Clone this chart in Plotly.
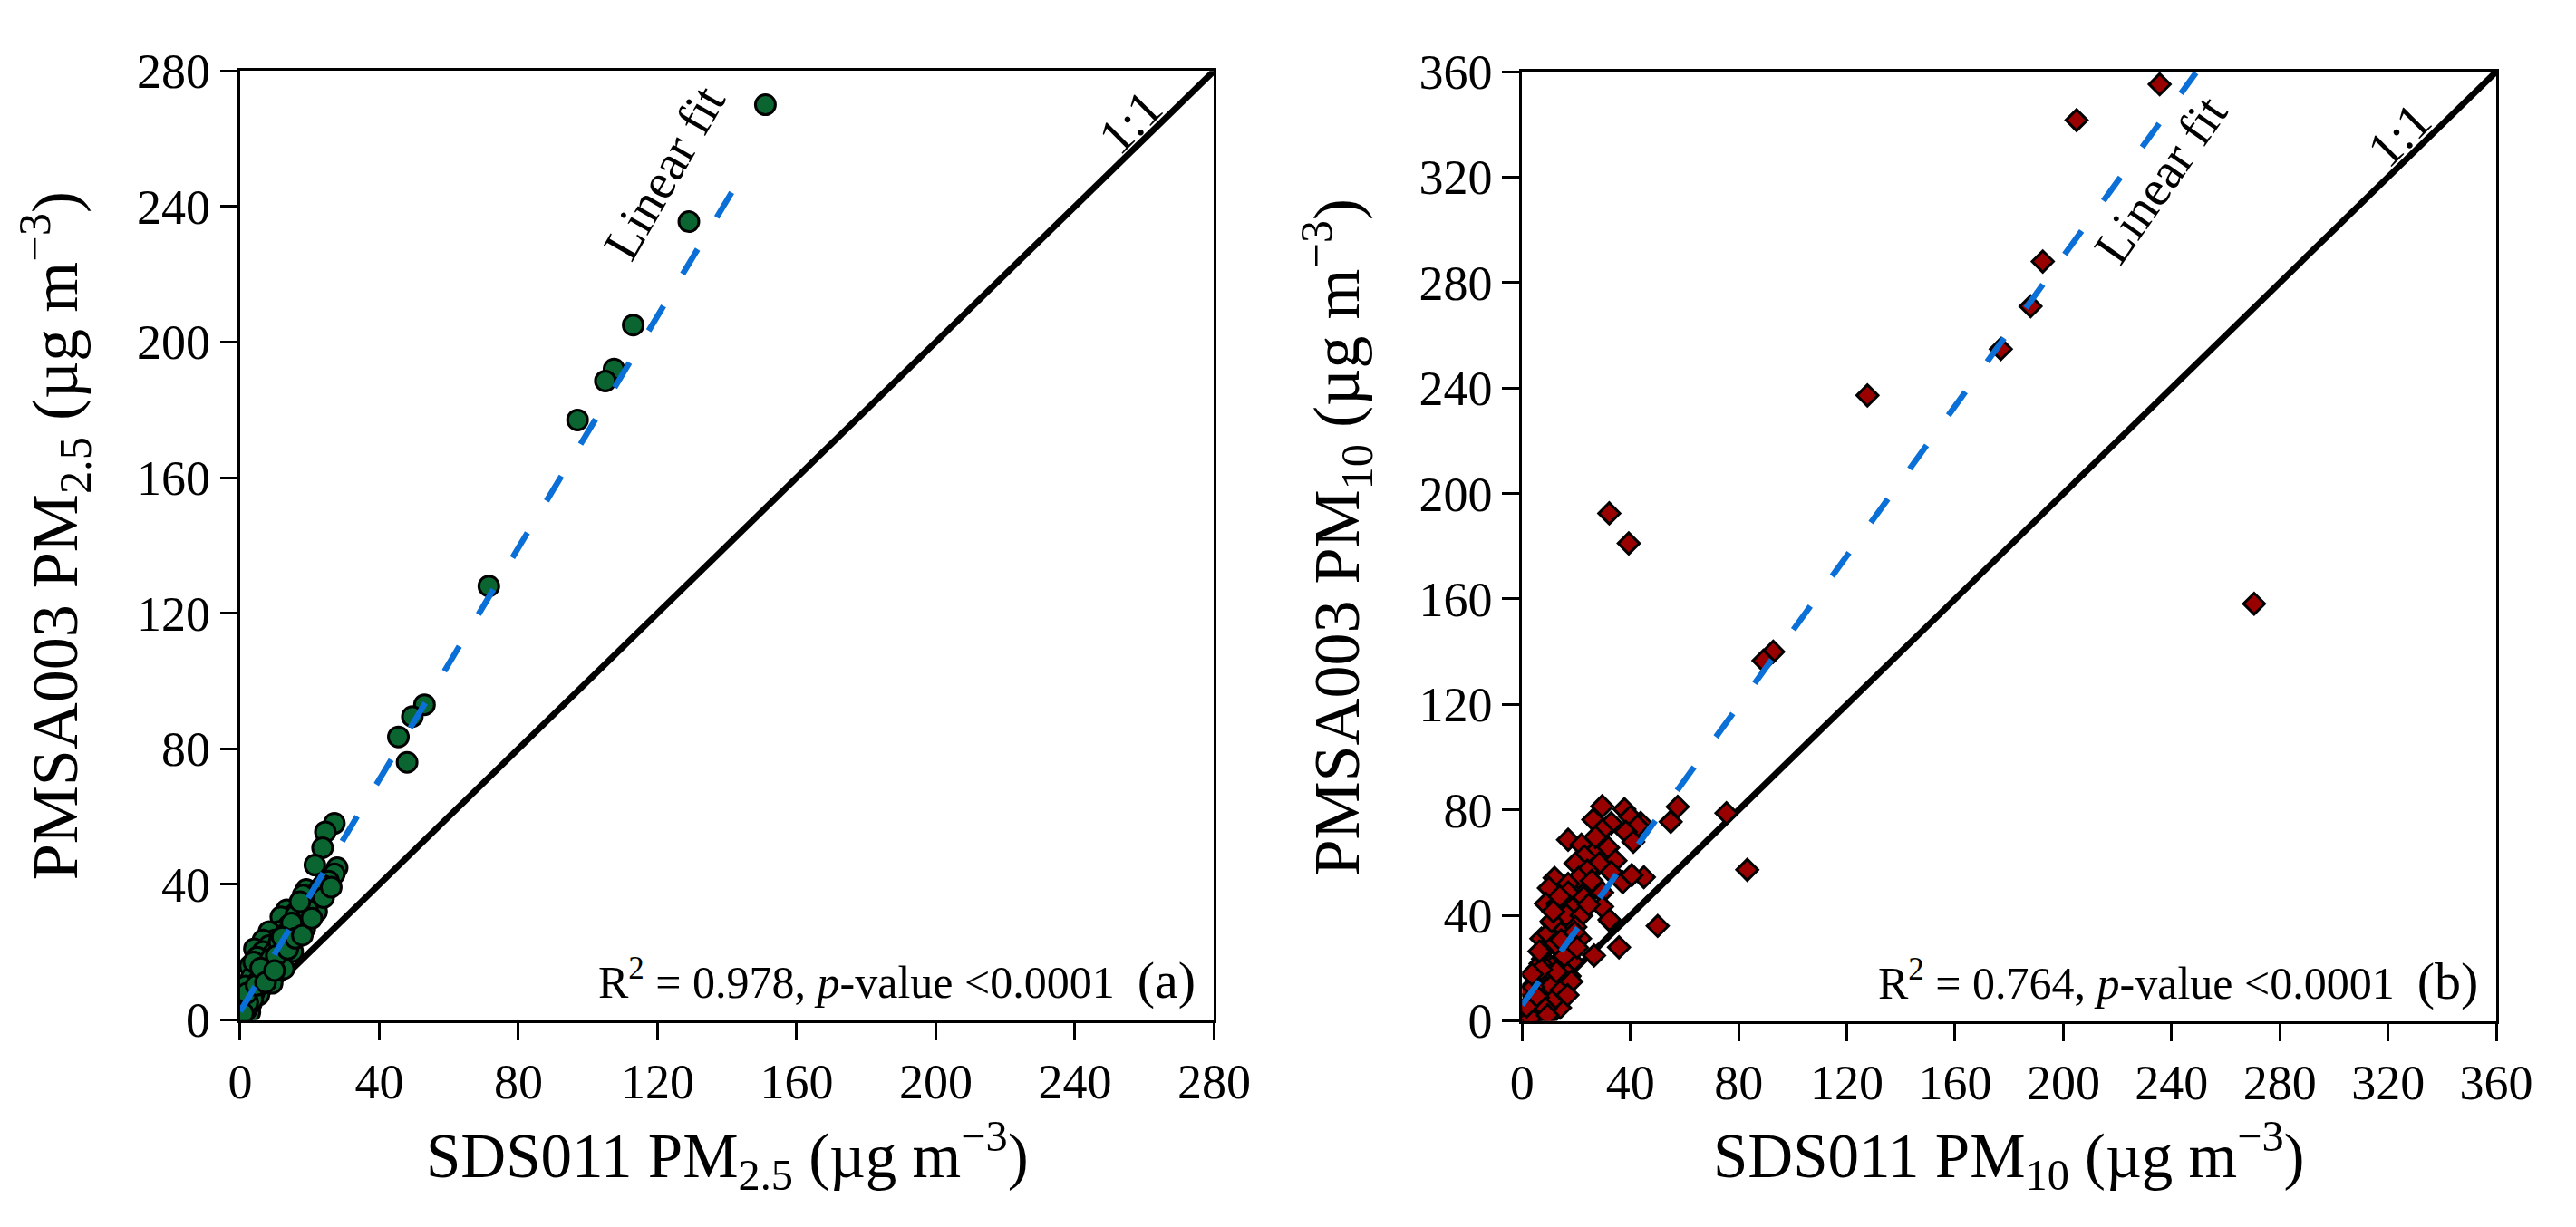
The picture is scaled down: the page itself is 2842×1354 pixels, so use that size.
import plotly.graph_objects as go
from plotly.subplots import make_subplots

# (a) PM2.5 : SDS011 vs PMSA003, ug/m3
pm25_sds = [151, 129, 113, 107.5, 105, 97, 71.5, 53, 49.5, 45.5, 48,
            27.1, 24.5, 23.7, 21.5, 27.9, 27.1, 25.4, 23.7, 19.0, 22.4, 20.3, 18.1,
            21.1, 19.8, 13.4, 15.6, 17.7, 11.7, 16.4, 13.9, 18.6, 10.9, 8.3, 10.0,
            14.3, 6.6, 12.6, 8.3, 4.1, 6.6, 15.1, 4.9, 9.2, 10.9, 12.6, 4.5, 2.8,
            7.5, 3.2, 9.2, 5.8, 1.5, 2.0, 5.4, 0.7, 3.2, 1.1, 2.8, 0.3, 22.0, 7.0,
            4.0, 1.8, 6.0, 8.5, 16.0, 19.4, 0.6, 1.4, 2.4,
            3.6, 5.1, 7.9, 9.6, 11.2, 13.1, 14.8, 17.2, 2.2, 3.9, 6.3, 8.8, 10.4,
            12.1, 0.9, 1.9, 4.6, 5.9, 7.3, 9.9, 13.7, 15.9, 17.9, 20.6, 24.0, 26.2]
pm25_pmsa = [270, 235.5, 205, 192, 188.5, 177, 128, 93, 89.5, 83.5, 76,
             58.0, 55.5, 50.8, 45.7, 44.9, 43.1, 41.0, 39.7, 38.5, 38.0, 36.3, 36.8,
             34.2, 32.9, 32.5, 31.2, 30.4, 30.4, 27.0, 27.8, 27.0, 26.1, 26.1, 23.6,
             23.6, 23.6, 21.0, 21.9, 21.0, 20.2, 20.2, 18.5, 17.2, 15.1, 15.1, 15.1, 15.9,
             13.4, 12.5, 10.8, 9.5, 10.0, 6.6, 7.4, 4.0, 4.9, 1.4, 2.3, 0.2, 32.0, 12.0,
             8.0, 3.0, 10.5, 14.0, 30.9, 32.4, 1.0, 2.6, 4.2,
             6.1, 11.3, 16.8, 19.7, 22.9, 25.4, 28.6, 34.9, 5.2, 17.1, 13.0, 18.0, 19.0,
             24.4, 2.0, 7.9, 10.2, 15.3, 11.1, 14.6, 20.9, 24.1, 25.0, 30.0, 36.1, 39.2]

# (b) PM10
pm10_sds = [235.6, 204.9, 192.4, 187.9, 176.9, 127.6, 32.2, 39.4, 270.5, 92.8, 89.2,
            75.5, 83.2, 50.1, 35.8, 45.0, 54.9, 57.5, 43.8, 26.6, 32.8,
            29.6, 37.8, 26.3, 40.0, 42.7, 32.9, 29.6, 38.3, 41.1, 17.0, 21.9, 31.8,
            26.3, 23.0, 34.5, 19.7, 28.5, 32.9, 24.1, 37.2, 12.0, 20.8, 17.0, 25.7,
            9.9, 29.6, 23.0, 17.0, 8.8, 13.1, 18.6, 29.6, 16.4, 21.9, 32.3, 19.7,
            11.0, 7.1, 13.1, 21.4, 13.7, 9.9, 18.6, 7.7, 11.0, 9.9, 8.8, 5.5, 15.3,
            3.3, 13.1, 15.9, 1.1, 4.4, 12.0, 7.7, 2.2, 6.6, 11.0, 17.5, 15.3, 40.5,
            0.5, 2.0, 6.0, 14.0,
            2.7, 3.8, 4.9, 6.2, 7.4, 8.3, 9.1, 10.6, 11.8, 12.7, 14.6, 16.1, 18.2,
            5.2, 6.8, 8.1, 9.6, 10.9, 12.4, 13.9, 15.6, 4.1, 5.8, 7.0, 8.6, 3.1,
            19.4, 20.3, 22.8, 24.6, 27.1, 14.4, 11.5, 6.4, 1.6, 3.6, 9.4, 16.8]
pm10_pmsa = [355.2, 341.6, 288.0, 271.0, 254.8, 237.2, 192.5, 181.1, 158.2, 140.0, 136.6,
             78.8, 57.3, 36.0, 27.9, 54.5, 75.5, 81.2, 75.1, 24.8, 37.6,
             81.4, 80.3, 76.3, 77.4, 73.9, 75.0, 72.3, 71.7, 67.9, 68.7, 66.8, 65.7,
             63.5, 62.4, 60.8, 59.7, 59.7, 56.4, 57.0, 52.6, 54.2, 54.2, 52.0, 53.1,
             50.4, 48.7, 46.5, 48.7, 44.4, 44.4, 42.7, 43.3, 40.0, 40.0, 38.3, 35.6,
             37.2, 31.2, 34.5, 31.2, 27.4, 29.0, 22.5, 23.5, 20.3, 10.4, 3.8, 14.8, 12.6,
             7.1, 7.1, 9.3, 2.7, 1.6, 15.9, 18.1, 11.5, 4.9, 2.7, 17.0, 19.2, 55.3,
             0.4, 1.2, 3.0, 5.0,
             5.8, 2.1, 9.7, 4.4, 12.3, 6.9, 15.8, 13.1, 8.2, 18.6, 11.7, 25.3, 14.9,
             16.4, 21.7, 26.9, 33.1, 37.8, 29.4, 47.2, 24.6, 12.8, 8.9, 19.5, 4.7, 1.0,
             33.6, 27.8, 46.9, 44.1, 69.7, 30.6, 41.5, 26.4, 5.4, 17.7, 2.2, 9.8]

# linear fits  (slope, intercept, x max)
fit25 = [1.71, 2.5, 146]
fit10 = [1.42, 6.0, 249]

ax_max = [280, 360]
tick_step = 40

FONT = "Liberation Serif"
GREEN = "#0b6530"
RED = "#990000"
BLUE = "#0a6fd6"

fig = make_subplots(rows=1, cols=2)

panels = [
    (1, pm25_sds, pm25_pmsa, fit25, ax_max[0], GREEN, "circle", 22,
     "SDS011 PM<sub>2.5</sub> (µg m<sup>−3</sup>)", "PMSA003 PM<sub>2.5</sub> (µg m<sup>−3</sup>)",
     "R<sup>2</sup> = 0.978, <i>p</i>-value &lt;0.0001\u00a0\u00a0<span style='font-size:58px'>(a)</span>",
     (122, 250), -60, (256, 265)),
    (2, pm10_sds, pm10_pmsa, fit10, ax_max[1], RED, "diamond", 18,
     "SDS011 PM<sub>10</sub> (µg m<sup>−3</sup>)", "PMSA003 PM<sub>10</sub> (µg m<sup>−3</sup>)",
     "R<sup>2</sup> = 0.764, <i>p</i>-value &lt;0.0001\u00a0\u00a0<span style='font-size:58px'>(b)</span>",
     (236, 319), -55, (324, 336)),
]

for col, xs, ys, fit, amax, color, sym, msize, xt, yt, stat, lf_pos, lf_ang, one_pos in panels:
    # 1:1 line
    fig.add_trace(go.Scatter(x=[0, amax], y=[0, amax], mode="lines",
                             line=dict(color="black", width=7), showlegend=False), row=1, col=col)
    fig.add_trace(go.Scatter(x=xs, y=ys, mode="markers",
                             marker=dict(symbol=sym, size=msize, color=color,
                                         line=dict(color="black", width=3)),
                             showlegend=False), row=1, col=col)
    slope, icpt, xmax = fit
    fig.add_trace(go.Scatter(x=[0, xmax], y=[icpt, icpt + slope * xmax], mode="lines",
                             line=dict(color=BLUE, width=6.5, dash="32px,41px"),
                             showlegend=False), row=1, col=col)

    xa = "x" if col == 1 else "x2"
    ya = "y" if col == 1 else "y2"
    fig.add_annotation(x=lf_pos[0], y=lf_pos[1], xref=xa, yref=ya, text="Linear fit",
                       textangle=lf_ang, showarrow=False, font=dict(family=FONT, size=56, color="black"))
    fig.add_annotation(x=one_pos[0], y=one_pos[1], xref=xa, yref=ya, text="1:1",
                       textangle=-45, showarrow=False, font=dict(family=FONT, size=56, color="black"))
    fig.add_annotation(x=1, y=0, xref=xa + " domain", yref=ya + " domain", text=stat,
                       xanchor="right", yanchor="bottom", xshift=-18, yshift=10,
                       showarrow=False, font=dict(family=FONT, size=50, color="black"))
    fig.add_annotation(x=0.5, y=0.043, xref=xa + " domain", yref="paper", text=xt,
                       xanchor="center", yanchor="middle", showarrow=False,
                       font=dict(family=FONT, size=69, color="black"))
    fig.add_annotation(x=0, y=0.51, xref=xa + " domain", yref=ya + " domain", text=yt,
                       xanchor="center", yanchor="middle", xshift=-205, textangle=-90,
                       showarrow=False, font=dict(family=FONT, size=72, color="black"))

    ticks = list(range(0, amax + 1, tick_step))
    axis_style = dict(range=[0, amax], tickvals=ticks, ticks="outside", ticklen=19, tickwidth=3,
                      tickcolor="black", showline=True, linewidth=3, linecolor="black",
                      mirror=True, showgrid=False, zeroline=False,
                      tickfont=dict(family=FONT, size=54, color="black"))
    fig.update_xaxes(**axis_style, row=1, col=col)
    fig.update_yaxes(**axis_style, row=1, col=col)

fig.update_layout(
    width=2842, height=1354,
    margin=dict(l=0, r=0, t=0, b=0),
    paper_bgcolor="white", plot_bgcolor="white",
    xaxis=dict(domain=[0.08716, 0.47273]),
    xaxis2=dict(domain=[0.59465, 0.98030]),
    yaxis=dict(domain=[0.1588, 0.9682]),
    yaxis2=dict(domain=[0.1580, 0.9675]),
)

fig.write_html("out.html")
